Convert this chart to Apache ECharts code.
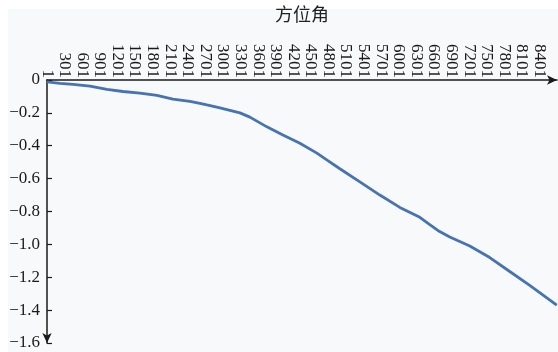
<!DOCTYPE html>
<html>
<head>
<meta charset="utf-8">
<script src="https://cdn.jsdelivr.net/npm/echarts@6/dist/echarts.min.js"></script>
<style>
  html, body { margin: 0; padding: 0; background: #ffffff; }
  #chart { width: 558px; height: 352px; }
</style>
</head>
<body>
<div id="chart"></div>
<script>
// Sample index (x) and azimuth drift value (y) along the curve
const sampleIndex = [0, 222, 443, 733, 1023, 1296, 1585, 1875, 2148, 2438, 2609, 2728, 2950,
  3291, 3461, 3751, 4024, 4314, 4604, 4791, 4996, 5337, 5678, 6019, 6360, 6530, 6667,
  6871, 7212, 7553, 7894, 8235, 8696];
const azimuthValue = [-0.012, -0.02, -0.027, -0.037, -0.057, -0.07, -0.08, -0.093, -0.116, -0.13,
  -0.142, -0.152, -0.17, -0.20, -0.226, -0.285, -0.335, -0.385, -0.445, -0.49, -0.54, -0.62,
  -0.70, -0.775, -0.835, -0.88, -0.915, -0.955, -1.01, -1.08, -1.165, -1.25, -1.37];

const axisTitle = '方位角';
const serif = "'Liberation Serif', 'DejaVu Serif', 'Times New Roman', serif";

const points = sampleIndex.map((x, i) => [x, azimuthValue[i]]);

const chart = echarts.init(document.getElementById('chart'), null, { renderer: 'canvas' });
chart.setOption({
  animation: false,
  backgroundColor: '#ffffff',
  graphic: [{
    type: 'rect',
    z: -10,
    shape: { x: 8, y: 9, width: 550, height: 343 },
    style: { fill: '#f8f9fb' }
  }],
  grid: { left: 47, top: 75, right: 1, bottom: 9, containLabel: false },
  xAxis: {
    type: 'value',
    position: 'top',
    min: 0,
    max: 8700,
    interval: 300,
    name: axisTitle,
    nameLocation: 'middle',
    nameGap: 57,
    nameTextStyle: { fontFamily: "'Noto Sans CJK SC'", fontSize: 18, color: '#222' },
    splitLine: { show: false },
    axisTick: { show: false },
    axisLine: {
      show: true,
      onZero: false,
      symbol: ['none', 'arrow'],
      symbolSize: [7, 10],
      lineStyle: { color: '#1a1a1a', width: 1.5 }
    },
    axisLabel: {
      rotate: 90,
      margin: 2,
      showMaxLabel: false,
      fontFamily: serif,
      fontSize: 17,
      color: '#1a1a1a',
      formatter: v => String(v + 1)
    }
  },
  yAxis: {
    type: 'value',
    min: -1.6,
    max: 0,
    interval: 0.2,
    splitLine: { show: false },
    axisLine: {
      show: true,
      onZero: false,
      symbol: ['arrow', 'none'],
      symbolSize: [7, 10],
      lineStyle: { color: '#1a1a1a', width: 1.5 }
    },
    axisTick: { show: true, inside: true, length: 5, lineStyle: { color: '#1a1a1a', width: 1.2 } },
    axisLabel: {
      margin: 7,
      showMinLabel: true,
      showMaxLabel: true,
      fontFamily: serif,
      fontSize: 17,
      color: '#1a1a1a',
      formatter: v => {
        const r = Math.round(v * 10) / 10;
        if (r === 0) return '0';
        return (r < 0 ? '\u2212' : '') + Math.abs(r).toFixed(1);
      }
    }
  },
  series: [{
    type: 'line',
    data: points,
    showSymbol: false,
    smooth: false,
    clip: false,
    lineStyle: { color: '#4573b3', width: 2.8 }
  }]
});
</script>
</body>
</html>
